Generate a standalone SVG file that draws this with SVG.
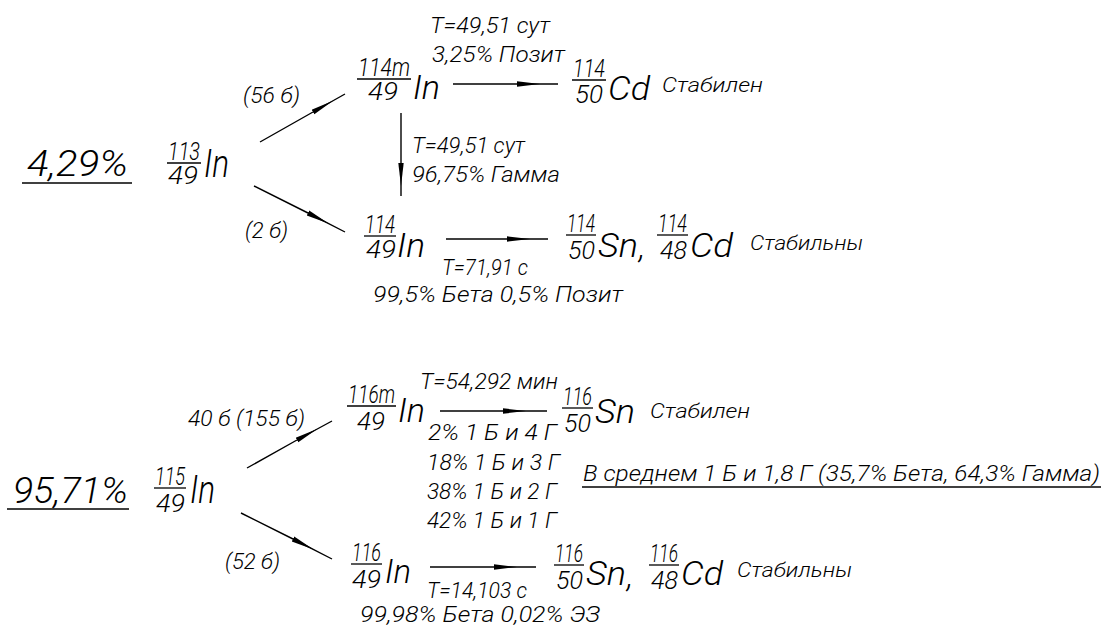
<svg xmlns="http://www.w3.org/2000/svg" width="1108" height="628" viewBox="0 0 1108 628">
<style>
text{font-family:Roboto,"Liberation Sans",Arial,sans-serif;font-style:italic;font-weight:300;fill:#000;}
.big{font-size:36px;}
.el{font-size:33px;}
.elb{font-size:38px;}
.fr{font-size:25px;}
.lb{font-size:22px;}
.sm{font-size:20px;}
.bar{stroke:#000;stroke-width:1.3;fill:none;}
.arr{stroke:#000;stroke-width:1.4;fill:none;marker-mid:url(#wedge);}
</style>
<defs>
<marker id="wedge" markerUnits="userSpaceOnUse" markerWidth="26" markerHeight="8" refX="0" refY="4" orient="auto" viewBox="0 0 26 8">
<path d="M0,1.3 L23,4 L0,6.7 Z" fill="#000"/>
</marker>
</defs>
<rect width="1108" height="628" fill="#fff"/>

<g id="connectors">
<path class="arr" d="M260,142 L313,112 L345,94"/>
<path class="arr" d="M254,186 L308,213 L345,232"/>
<path class="arr" d="M453,84 L517,84 L558,84"/>
<path class="arr" d="M401,113 L401,163 L401,196"/>
<path class="arr" d="M446,239 L507,239 L548,239"/>
<path class="arr" d="M247,468 L297,440 L332,421"/>
<path class="arr" d="M241,513 L293,539 L332,559"/>
<path class="arr" d="M440,411 L503,411 L547,411"/>
<path class="arr" d="M430,567 L494,567 L536,567"/>
</g>

<g id="pct1">
<text class="big" x="27" y="176" textLength="101" lengthAdjust="spacingAndGlyphs">4,29%</text>
<line class="bar" x1="22" y1="183" x2="132" y2="183"/>
</g>
<g id="in113">
<text class="fr" x="168" y="160" textLength="32" lengthAdjust="spacingAndGlyphs">113</text>
<line class="bar" x1="167" y1="163" x2="201" y2="163"/>
<text class="fr" x="168" y="184" textLength="30" lengthAdjust="spacingAndGlyphs">49</text>
<text class="elb" x="204" y="177" textLength="25" lengthAdjust="spacingAndGlyphs">In</text>
</g>
<g id="lbl-56">
<text class="lb" x="243" y="103" textLength="57" lengthAdjust="spacingAndGlyphs">(56 б)</text>
</g>
<g id="lbl-2">
<text class="lb" x="245" y="238" textLength="43" lengthAdjust="spacingAndGlyphs">(2 б)</text>
</g>
<g id="in114m">
<text class="fr" x="358" y="76" textLength="52" lengthAdjust="spacingAndGlyphs">114m</text>
<line class="bar" x1="357" y1="79" x2="411" y2="79"/>
<text class="fr" x="368" y="100" textLength="30" lengthAdjust="spacingAndGlyphs">49</text>
<text class="el" x="413" y="99" textLength="27" lengthAdjust="spacingAndGlyphs">In</text>
</g>
<g id="lbl-114m-pos">
<text class="lb" x="430" y="33" textLength="120" lengthAdjust="spacingAndGlyphs">T=49,51 сут</text>
<text class="lb" x="432" y="62" textLength="133" lengthAdjust="spacingAndGlyphs">3,25% Позит</text>
</g>
<g id="cd114">
<text class="fr" x="573" y="77" textLength="32" lengthAdjust="spacingAndGlyphs">114</text>
<line class="bar" x1="572" y1="80" x2="606" y2="80"/>
<text class="fr" x="575" y="103" textLength="28" lengthAdjust="spacingAndGlyphs">50</text>
<text class="el" x="608" y="100" textLength="42" lengthAdjust="spacingAndGlyphs">Cd</text>
<text class="sm" x="662" y="92" textLength="101" lengthAdjust="spacingAndGlyphs">Стабилен</text>
</g>
<g id="lbl-114m-gamma">
<text class="lb" x="412" y="153" textLength="113" lengthAdjust="spacingAndGlyphs">T=49,51 сут</text>
<text class="lb" x="412" y="182" textLength="148" lengthAdjust="spacingAndGlyphs">96,75% Гамма</text>
</g>
<g id="in114">
<text class="fr" x="365" y="233" textLength="30" lengthAdjust="spacingAndGlyphs">114</text>
<line class="bar" x1="364" y1="236" x2="396" y2="236"/>
<text class="fr" x="366" y="258" textLength="30" lengthAdjust="spacingAndGlyphs">49</text>
<text class="el" x="397" y="257" textLength="28" lengthAdjust="spacingAndGlyphs">In</text>
</g>
<g id="lbl-114-beta">
<text class="lb" x="442" y="275" textLength="86" lengthAdjust="spacingAndGlyphs">T=71,91 с</text>
<text class="lb" x="373" y="302" textLength="250" lengthAdjust="spacingAndGlyphs">99,5% Бета 0,5% Позит</text>
</g>
<g id="sn114-cd114">
<text class="fr" x="567" y="232" textLength="28" lengthAdjust="spacingAndGlyphs">114</text>
<line class="bar" x1="566" y1="235" x2="596" y2="235"/>
<text class="fr" x="568" y="259" textLength="27" lengthAdjust="spacingAndGlyphs">50</text>
<text class="el" x="598" y="257" textLength="40" lengthAdjust="spacingAndGlyphs">Sn</text>
<text class="el" x="639" y="258">,</text>
<text class="fr" x="658" y="232" textLength="29" lengthAdjust="spacingAndGlyphs">114</text>
<line class="bar" x1="657" y1="235" x2="688" y2="235"/>
<text class="fr" x="660" y="259" textLength="27" lengthAdjust="spacingAndGlyphs">48</text>
<text class="el" x="690" y="257" textLength="43" lengthAdjust="spacingAndGlyphs">Cd</text>
<text class="sm" x="750" y="250" textLength="113" lengthAdjust="spacingAndGlyphs">Стабильны</text>
</g>

<g id="pct2">
<text class="big" x="13" y="503" textLength="115" lengthAdjust="spacingAndGlyphs">95,71%</text>
<line class="bar" x1="7" y1="509" x2="129" y2="509"/>
</g>
<g id="in115">
<text class="fr" x="155" y="485" textLength="30" lengthAdjust="spacingAndGlyphs">115</text>
<line class="bar" x1="154" y1="488" x2="186" y2="488"/>
<text class="fr" x="156" y="512" textLength="29" lengthAdjust="spacingAndGlyphs">49</text>
<text class="elb" x="190" y="503" textLength="25" lengthAdjust="spacingAndGlyphs">In</text>
</g>
<g id="lbl-40">
<text class="lb" x="188" y="426" textLength="117" lengthAdjust="spacingAndGlyphs">40 б (155 б)</text>
</g>
<g id="lbl-52">
<text class="lb" x="225" y="569" textLength="55" lengthAdjust="spacingAndGlyphs">(52 б)</text>
</g>
<g id="in116m">
<text class="fr" x="348" y="403" textLength="47" lengthAdjust="spacingAndGlyphs">116m</text>
<line class="bar" x1="347" y1="406" x2="396" y2="406"/>
<text class="fr" x="357" y="430" textLength="28" lengthAdjust="spacingAndGlyphs">49</text>
<text class="el" x="398" y="422" textLength="27" lengthAdjust="spacingAndGlyphs">In</text>
</g>
<g id="lbl-116m">
<text class="lb" x="420" y="389" textLength="138" lengthAdjust="spacingAndGlyphs">T=54,292 мин</text>
<text class="lb" x="428" y="440" textLength="129" lengthAdjust="spacingAndGlyphs">2% 1 Б и 4 Г</text>
<text class="lb" x="427" y="470" textLength="133" lengthAdjust="spacingAndGlyphs">18% 1 Б и 3 Г</text>
<text class="lb" x="427" y="499" textLength="130" lengthAdjust="spacingAndGlyphs">38% 1 Б и 2 Г</text>
<text class="lb" x="427" y="528" textLength="130" lengthAdjust="spacingAndGlyphs">42% 1 Б и 1 Г</text>
</g>
<g id="sn116">
<text class="fr" x="563" y="405" textLength="29" lengthAdjust="spacingAndGlyphs">116</text>
<line class="bar" x1="562" y1="408" x2="593" y2="408"/>
<text class="fr" x="564" y="432" textLength="27" lengthAdjust="spacingAndGlyphs">50</text>
<text class="el" x="595" y="423" textLength="40" lengthAdjust="spacingAndGlyphs">Sn</text>
<text class="sm" x="650" y="418" textLength="100" lengthAdjust="spacingAndGlyphs">Стабилен</text>
</g>
<g id="avg-note">
<text class="lb" x="583" y="481" textLength="517" lengthAdjust="spacingAndGlyphs">В среднем 1 Б и 1,8 Г (35,7% Бета, 64,3% Гамма)</text>
<line class="bar" x1="582" y1="487" x2="1101" y2="487"/>
</g>
<g id="in116">
<text class="fr" x="352" y="561" textLength="29" lengthAdjust="spacingAndGlyphs">116</text>
<line class="bar" x1="351" y1="564" x2="382" y2="564"/>
<text class="fr" x="352" y="588" textLength="29" lengthAdjust="spacingAndGlyphs">49</text>
<text class="el" x="385" y="583" textLength="26" lengthAdjust="spacingAndGlyphs">In</text>
</g>
<g id="lbl-116-beta">
<text class="lb" x="427" y="598" textLength="100" lengthAdjust="spacingAndGlyphs">T=14,103 с</text>
<text class="lb" x="360" y="622" textLength="240" lengthAdjust="spacingAndGlyphs">99,98% Бета 0,02% ЭЗ</text>
</g>
<g id="sn116-cd116">
<text class="fr" x="555" y="562" textLength="28" lengthAdjust="spacingAndGlyphs">116</text>
<line class="bar" x1="554" y1="565" x2="584" y2="565"/>
<text class="fr" x="556" y="589" textLength="27" lengthAdjust="spacingAndGlyphs">50</text>
<text class="el" x="586" y="585" textLength="40" lengthAdjust="spacingAndGlyphs">Sn</text>
<text class="el" x="627" y="587">,</text>
<text class="fr" x="650" y="562" textLength="28" lengthAdjust="spacingAndGlyphs">116</text>
<line class="bar" x1="649" y1="565" x2="679" y2="565"/>
<text class="fr" x="651" y="589" textLength="27" lengthAdjust="spacingAndGlyphs">48</text>
<text class="el" x="681" y="585" textLength="42" lengthAdjust="spacingAndGlyphs">Cd</text>
<text class="sm" x="737" y="577" textLength="115" lengthAdjust="spacingAndGlyphs">Стабильны</text>
</g>
</svg>
